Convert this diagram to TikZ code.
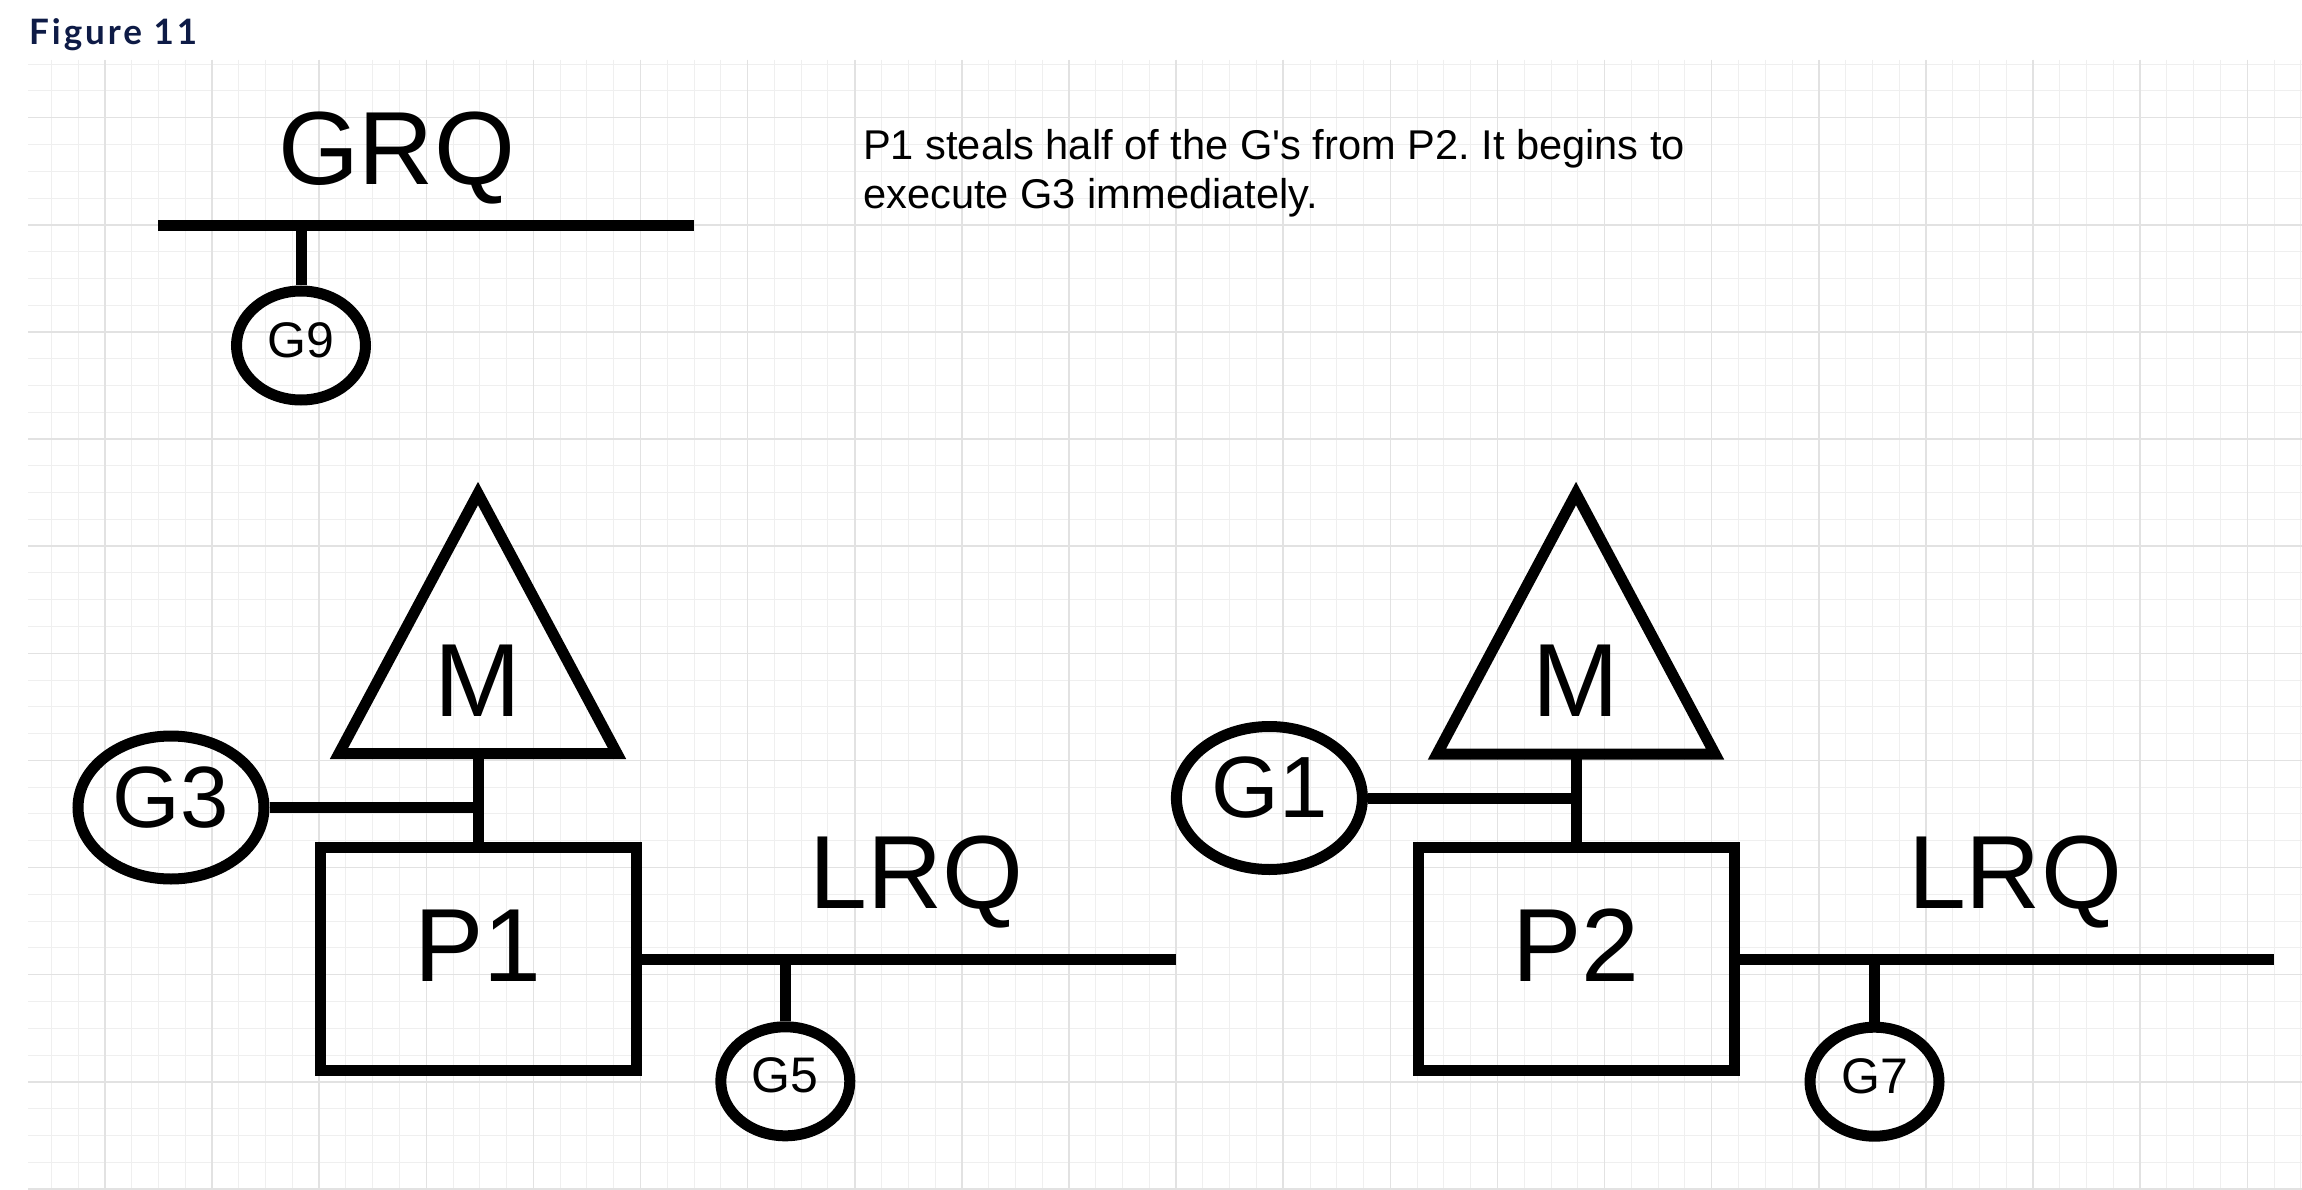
\documentclass[tikz,border=0pt]{standalone}
\usepackage{fontspec}
\setmainfont{Liberation Sans}[Ligatures=TeXOff]
\newfontfamily\latofont{Lato}[LetterSpace=8.5]
\usetikzlibrary{shapes.geometric}
\definecolor{gridminor}{RGB}{239,239,239}
\definecolor{gridmajor}{RGB}{226,226,226}
\definecolor{navy}{RGB}{14,27,70}
\frenchspacing
\begin{document}
\begin{tikzpicture}[x=1pt,y=-1pt,
  conn/.style={line width=11pt},
  minorline/.style={draw=gridminor,line width=1pt},
  majorline/.style={draw=gridmajor,line width=1.5pt},
  gbig/.style={ellipse,draw,line width=11pt,inner sep=0pt,minimum width=186pt,minimum height=143pt,
    font=\fontsize{87}{100}\selectfont,text height=63pt,text depth=24pt},
  gsmall/.style={ellipse,draw,line width=11pt,inner sep=0pt,minimum width=129pt,minimum height=109pt,
    font=\fontsize{50}{60}\selectfont,text height=36pt,text depth=13pt},
  pbox/.style={rectangle,draw,line width=11pt,inner sep=0pt,minimum width=316pt,minimum height=223pt,
    font=\fontsize{104}{120}\selectfont,text height=75pt,text depth=30pt},
  tri/.style={line width=11pt,line join=miter},
  bigtext/.style={inner sep=0pt,anchor=base,font=\fontsize{104}{120}\selectfont}
]
\useasboundingbox (0,0) rectangle (2302,1190);
\fill[white] (0,0) rectangle (2302,1190);
% grid
\foreach \k in {-2,...,82} {\draw[minorline] ({104.9+26.78*\k},60) -- ({104.9+26.78*\k},1190);}
\foreach \k in {-2,...,40} {\draw[minorline] (28,{117.7+26.78*\k}) -- (2302,{117.7+26.78*\k});}
\foreach \k in {0,...,20} {\draw[majorline] ({104.9+107.12*\k},60) -- ({104.9+107.12*\k},1190);}
\foreach \k in {0,...,10} {\draw[majorline] (28,{117.7+107.12*\k}) -- (2302,{117.7+107.12*\k});}

% title
\node[anchor=base west,inner sep=0pt,text=navy,font=\latofont\bfseries\fontsize{35}{40}\selectfont] (fig) at (29,45) {Figure 11};

% description
\node[anchor=base west,inner sep=0pt,align=left,font=\fontsize{41.6}{49}\selectfont] (desc) at (863,208.3)
  {P1 steals half of the G's from P2. It begins to\\execute G3 immediately.};

% GRQ
\node[bigtext] (grq) at (396.5,184.3) {GRQ};
\coordinate (grqL) at (158,225.7);
\coordinate (grqR) at (694,225.7);
\coordinate (g9top) at (301,225.7);
\draw[conn] (grqL) -- (grqR);
\node[gsmall] (g9) at (301,345.5) {G9};
\draw[conn] (g9top) -- (g9.north);

% left group
\coordinate (m1l) at (339,753.5);
\coordinate (m1a) at (478,493.5);
\coordinate (m1r) at (617,753.5);
\coordinate (m1b) at (478,753.5);
\draw[tri] (m1l) -- (m1a) -- (m1r) -- cycle;
\node[bigtext] (m1) at (477.5,716.7) {M};
\node[pbox] (p1) at (478,959.2) {P1};
\draw[conn] (m1b) -- (p1.north);
\node[gbig] (g3) at (171,807.5) {G3};
\draw[conn] (g3.east) -- (g3.east -| m1b);
\coordinate (lrq1end) at (1176,959.2);
\draw[conn] (p1.east) -- (lrq1end);
\node[bigtext] (lrq1) at (916.5,908.3) {LRQ};
\coordinate (g5top) at (785.3,959.2);
\node[gsmall] (g5) at (785.3,1081.3) {G5};
\draw[conn] (g5top) -- (g5.north);

% right group
\coordinate (m2l) at (1437,754);
\coordinate (m2a) at (1576,493.5);
\coordinate (m2r) at (1715,754);
\coordinate (m2b) at (1576,754);
\draw[tri] (m2l) -- (m2a) -- (m2r) -- cycle;
\node[bigtext] (m2) at (1575.5,716.7) {M};
\node[pbox] (p2) at (1576,959.2) {P2};
\draw[conn] (m2b) -- (p2.north);
\node[gbig] (g1) at (1269.4,798) {G1};
\draw[conn] (g1.east) -- (g1.east -| m2b);
\coordinate (lrq2end) at (2274.4,959.2);
\draw[conn] (p2.east) -- (lrq2end);
\node[bigtext] (lrq2) at (2015,908.3) {LRQ};
\coordinate (g7top) at (1874.5,959.2);
\node[gsmall] (g7) at (1874.5,1081.7) {G7};
\draw[conn] (g7top) -- (g7.north);
\end{tikzpicture}
\end{document}
